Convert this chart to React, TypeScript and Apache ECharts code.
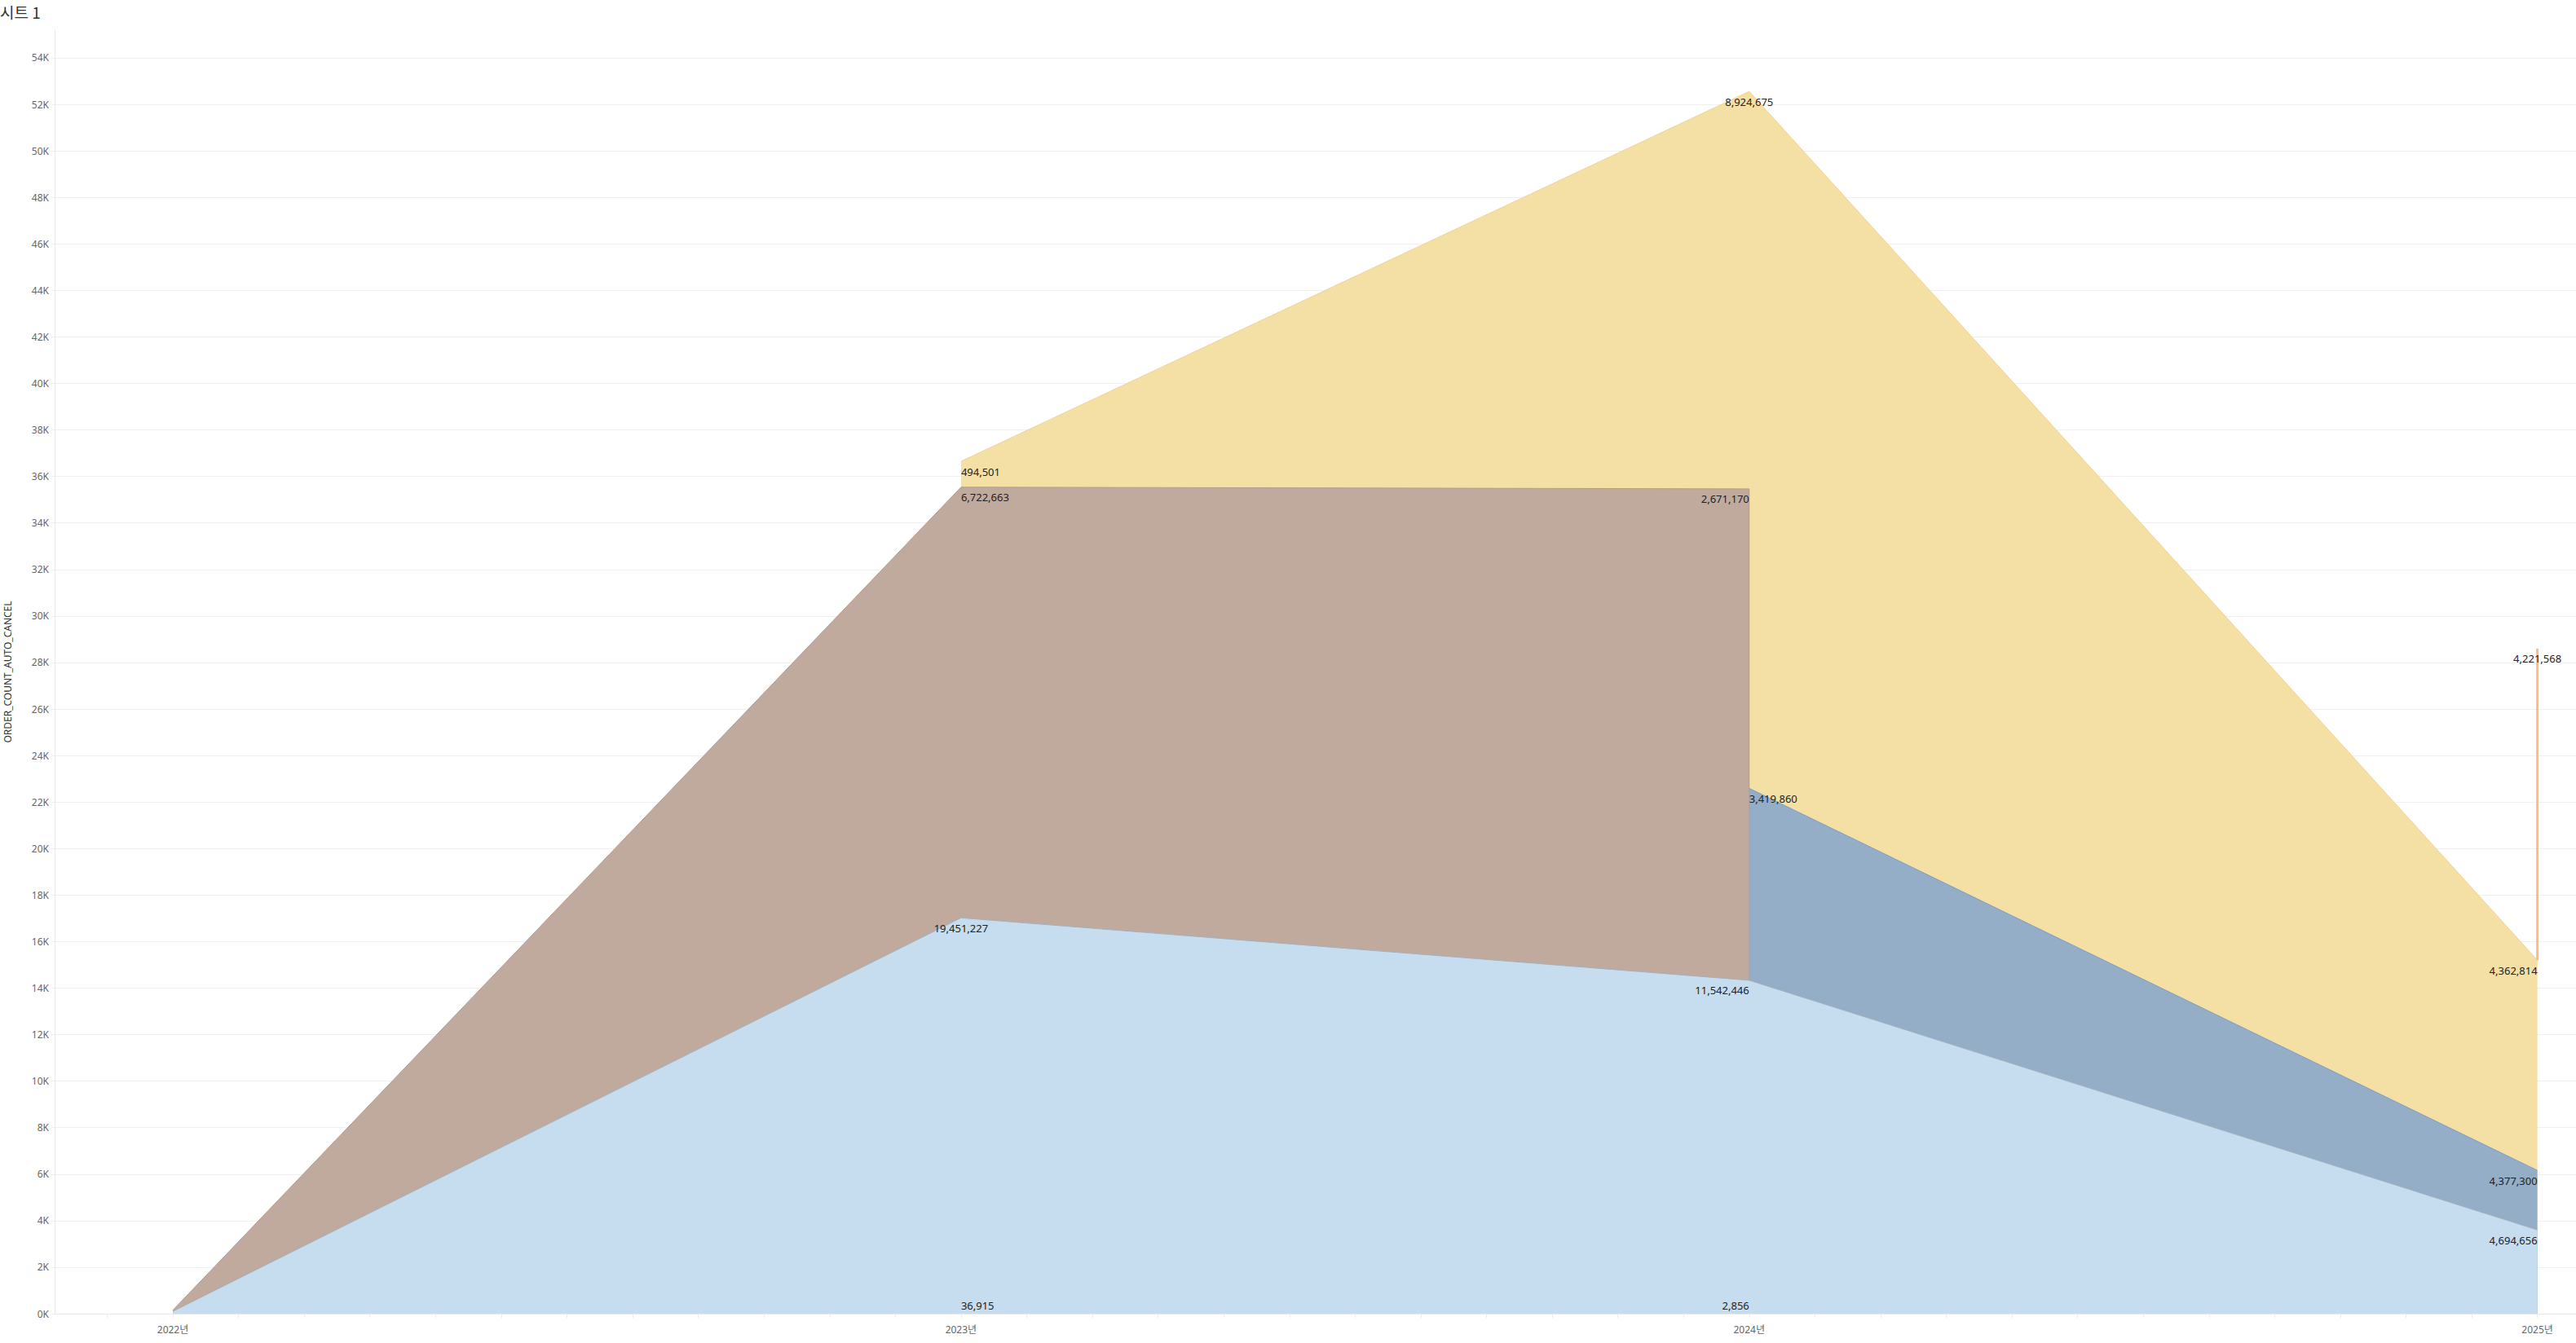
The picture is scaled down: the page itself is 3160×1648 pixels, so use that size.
import React, { useEffect, useRef } from 'react';
import * as echarts from 'echarts';

// Year labels on the x axis
const yearTicks = [2022, 2023, 2024, 2025];
// Stack slots: 2022, 2023, 2024 (left side), 2024 (right side), 2025, 2025 (cap for the last mark)
const slotYears = [2022, 2023, 2024, 2024, 2025, 2025];

// ORDER_COUNT_AUTO_CANCEL per colour, per slot (stacked increments, bottom to top)
const baseValues = [null, 20, 5, null, null, null];
const lightBlueValues = [100, 17000, 14330, 14330, 3600, 3600];
const brownValues = [50, 18520, 21130, 0, null, null];
const blueGrayValues = [null, null, null, 8260, 2560, 2560];
const yellowValues = [null, 1110, 17090, 29960, 9040, 9040];
const orangeValues = [null, null, null, null, 0, 13400];

// Mark labels (another measure) per slot
const baseLabels = [null, 36915, 2856, null, null, null];
const lightBlueLabels = [null, 19451227, 11542446, null, 4694656, null];
const brownLabels = [null, 6722663, 2671170, null, null, null];
const blueGrayLabels = [null, null, null, 3419860, 4377300, null];
const yellowLabels = [null, 494501, 8924675, null, 4362814, null];
const orangeLabels = [null, null, null, null, null, 4221568];

const FONT = '"Noto Sans", "Noto Sans CJK KR", sans-serif';
const fmt = (n: number) => n.toLocaleString('en-US');

type Layer = {
  name: string;
  values: (number | null)[];
  labels: (number | null)[];
  aligns: string[];
  fill: string | null;
  line: string;
  lineWidth: number;
  labelPos: string;
  labelDist: number;
};

const L = 'left', R = 'right', C = 'center';

// stacking order, bottom to top
const layers: Layer[] = [
  { name: 'base', values: baseValues, labels: baseLabels, aligns: [L, L, R, L, L, L], fill: null, line: 'rgba(0,0,0,0)', lineWidth: 0, labelPos: 'top', labelDist: 3 },
  { name: 'lightBlue', values: lightBlueValues, labels: lightBlueLabels, aligns: [C, C, R, R, R, R], fill: '#C6DCEF', line: '#a3b1bf', lineWidth: 1, labelPos: 'bottom', labelDist: 6 },
  { name: 'brown', values: brownValues, labels: brownLabels, aligns: [L, L, R, R, R, R], fill: '#C0AA9D', line: '#b29c90', lineWidth: 1, labelPos: 'bottom', labelDist: 6 },
  { name: 'blueGray', values: blueGrayValues, labels: blueGrayLabels, aligns: [L, L, L, L, R, R], fill: '#94AEC7', line: '#809dbc', lineWidth: 1, labelPos: 'bottom', labelDist: 6 },
  { name: 'yellow', values: yellowValues, labels: yellowLabels, aligns: [L, L, C, C, R, R], fill: '#F4E0A5', line: '#eed393', lineWidth: 1, labelPos: 'bottom', labelDist: 6 },
  { name: 'orange', values: orangeValues, labels: orangeLabels, aligns: [C, C, C, C, C, C], fill: null, line: '#F9BE86', lineWidth: 3, labelPos: 'bottom', labelDist: 6 },
];

// cumulative tops per layer and slot (null where the layer has no mark)
function cumulative(): (number | null)[][] {
  const out: (number | null)[][] = [];
  layers.forEach((layer, li) => {
    out.push(
      layer.values.map((v, i) => {
        if (v == null) return null;
        let below = 0;
        for (let j = li - 1; j >= 0; j--) {
          const c = out[j][i];
          if (c != null && c > 0) {
            below = c;
            break;
          }
        }
        return below + v;
      })
    );
  });
  return out;
}

function buildSeries() {
  const cum = cumulative();
  const series = layers.map((layer, li) => {
    const data: any[] = [];
    cum[li].forEach((top, i) => {
      if (top == null) return;
      const item: any = { value: [slotYears[i], top] };
      const lab = layer.labels[i];
      if (lab != null) {
        item.label = {
          show: true,
          formatter: fmt(lab),
          position: layer.labelPos,
          distance: layer.labelDist,
          align: layer.aligns[i],
          color: '#222',
          fontSize: 13,
          fontFamily: FONT,
        };
      }
      data.push(item);
    });
    return {
      type: 'line',
      name: layer.name,
      silent: true,
      showSymbol: true,
      showAllSymbol: true,
      symbol: 'circle',
      symbolSize: 0,
      lineStyle: { color: layer.line, width: layer.lineWidth },
      itemStyle: { color: layer.line },
      areaStyle: layer.fill ? { color: layer.fill, opacity: 1 } : undefined,
      z: 2,
      data,
    };
  });
  // paint tallest (top of stack) first so lower bands cover it; orange and base last
  const order = ['yellow', 'blueGray', 'brown', 'lightBlue', 'base', 'orange'];
  return order.map((n) => series.find((s) => s.name === n));
}

function monthTicks() {
  const out: number[] = [];
  for (let y = 2021; y <= 2025; y++) {
    for (let m = 0; m < 12; m++) {
      const v = y + m / 12;
      if (v >= 2021.85 && v <= 2025.05) out.push(v);
    }
  }
  return out;
}

export default function App() {
  const ref = useRef<HTMLDivElement>(null);
  useEffect(() => {
    if (!ref.current) return;
    const chart = echarts.init(ref.current, null, { renderer: 'svg' });
    chart.setOption({
      animation: false,
      backgroundColor: '#ffffff',
      textStyle: { fontFamily: FONT },
      grid: { left: 67, right: 0, top: 37, bottom: 36, containLabel: false, outerBoundsMode: 'none' },
      graphic: [
        {
          type: 'text',
          left: 0,
          top: 5,
          style: { text: '시트 1', fontSize: 19, fill: '#333', fontFamily: '"Noto Sans CJK KR", sans-serif' },
        },
      ],
      xAxis: {
        type: 'value',
        min: 2021.85,
        max: 2025.049,
        splitLine: { show: false },
        axisLine: { show: true, lineStyle: { color: '#e6e6e6', width: 1 } },
        axisTick: { show: true, customValues: monthTicks(), length: 5, lineStyle: { color: '#ececec' } },
        axisLabel: {
          customValues: yearTicks,
          formatter: (v: number) => `${v}년`,
          color: '#666',
          fontSize: 12,
          margin: 13,
          fontFamily: FONT,
        },
      },
      yAxis: {
        type: 'value',
        min: 0,
        max: 55190,
        interval: 2000,
        name: 'ORDER_COUNT_AUTO_CANCEL',
        nameLocation: 'middle',
        nameGap: 52,
        nameTextStyle: { fontSize: 12, color: '#333', fontFamily: FONT },
        axisLine: { show: true, lineStyle: { color: '#e8e8e8' } },
        axisTick: { show: true, length: 4, lineStyle: { color: '#eeeeee' } },
        splitLine: { show: true, showMaxLine: false, lineStyle: { color: '#f0f0f0', width: 1 } },
        axisLabel: {
          showMaxLabel: false,
          formatter: (v: number) => `${v / 1000}K`,
          color: '#666',
          fontSize: 12,
          margin: 7,
          fontFamily: FONT,
        },
      },
      series: buildSeries(),
    });
    return () => chart.dispose();
  }, []);
  return (
    <div
      ref={ref}
      style={{ position: 'absolute', left: 0, top: 0, width: 3160, height: 1648 }}
    />
  );
}
